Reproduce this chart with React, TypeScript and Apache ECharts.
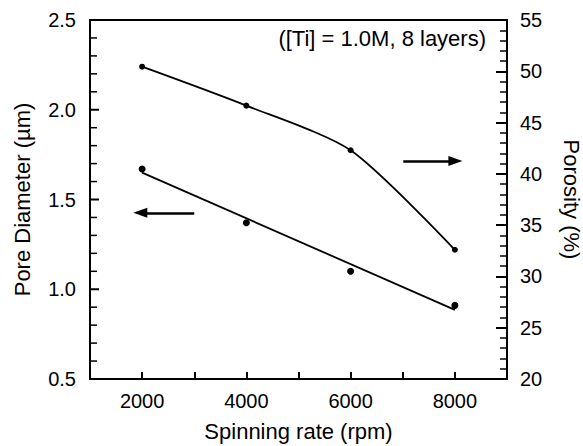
import React, { useEffect, useRef } from "react";
import * as echarts from "echarts";

// ---- data ----
const spinRates = [2000, 4000, 6000, 8000];
const poreDiameter = [1.67, 1.37, 1.1, 0.91]; // µm (left axis)
const porosity = [50.45, 46.65, 42.3, 32.6]; // % (right axis)
const fitX = [2000, 8000];
const poreFit = [1.65, 0.885]; // µm, linear fit end points
const xLabelValues = [2000, 4000, 6000, 8000];
const leftMajorTicks = [0.5, 1.0, 1.5, 2.0, 2.5];
const leftMinorTicks = [
  0.6, 0.7, 0.8, 0.9, 1.1, 1.2, 1.3, 1.4, 1.6, 1.7, 1.8, 1.9, 2.1, 2.2, 2.3, 2.4,
];
const leftArrow = { from: [3000, 1.426], to: [1965, 1.426] };
const rightArrow = { from: [7010, 41.25], to: [8010, 41.25] };
const annotation = "([Ti] = 1.0M, 8 layers)";

const LEFT_SCALE = 10;
const X_MIN = 1000;
const X_MAX = 9000;

const FONT = "'Liberation Sans', Arial, Helvetica, sans-serif";
const GRID = { left: 90, right: 76, top: 20, bottom: 67 };
const W = 583;
const H = 446;

export default function App() {
  const ref = useRef<HTMLDivElement>(null);
  useEffect(() => {
    if (!ref.current) return;
    const chart = echarts.init(ref.current, undefined, { renderer: "svg" });
    const black = "#000";
    const arrowLine = (a: { from: number[]; to: number[] }, s: number) => ({
      silent: true,
      symbol: ["none", "triangle"],
      symbolSize: [10, 14],
      label: { show: false },
      emphasis: { disabled: true },
      lineStyle: { color: black, width: 2.5, type: "solid" },
      data: [[{ coord: [a.from[0], a.from[1] * s] }, { coord: [a.to[0], a.to[1] * s] }]],
    });
    chart.setOption({
      animation: false,
      backgroundColor: "#fff",
      textStyle: { fontFamily: FONT, color: black },
      grid: {
        ...GRID,
        show: false,
        containLabel: false,
        outerBoundsMode: "none",
      },
      graphic: [
        {
          type: "text",
          x: 486,
          y: 38,
          style: {
            text: annotation,
            fontFamily: FONT,
            fontSize: 22,
            fill: black,
            textAlign: "right",
            textVerticalAlign: "middle",
          },
        },
      ],
      xAxis: [
        {
          type: "value",
          min: X_MIN,
          max: X_MAX,
          interval: 1000,
          position: "bottom",
          z: 5,
          name: "Spinning rate (rpm)",
          nameLocation: "middle",
          nameGap: 41,
          nameTextStyle: { fontSize: 22, color: black, fontFamily: FONT },
          axisLine: { show: true, onZero: false, lineStyle: { color: black, width: 2 } },
          axisTick: { show: true, inside: true, length: 7, lineStyle: { color: black, width: 2 } },
          axisLabel: {
            show: true,
            margin: 12,
            fontSize: 20,
            color: black,
            fontFamily: FONT,
            formatter: (v: number) => (xLabelValues.includes(v) ? String(v) : ""),
          },
          splitLine: { show: false },
        },
        {
          type: "value",
          min: X_MIN,
          max: X_MAX,
          interval: 1000,
          position: "top",
          z: 5,
          axisLine: { show: true, onZero: false, lineStyle: { color: black, width: 2 } },
          axisTick: { show: false },
          axisLabel: { show: false },
          splitLine: { show: false },
        },
      ],
      yAxis: [
        {
          type: "value",
          min: 5,
          max: 25,
          interval: 5,
          position: "left",
          z: 5,
          name: "Pore Diameter (\u00b5m)",
          nameLocation: "middle",
          nameGap: 57,
          nameTextStyle: { fontSize: 22, color: black, fontFamily: FONT },
          axisLine: { show: true, onZero: false, lineStyle: { color: black, width: 2 } },
          axisTick: { show: false },
          axisLabel: {
            margin: 14,
            fontSize: 20,
            color: black,
            fontFamily: FONT,
            formatter: (v: number) => (v / LEFT_SCALE).toFixed(1),
          },
          splitLine: { show: false },
        },
        {
          type: "value",
          min: 20,
          max: 55,
          interval: 5,
          position: "right",
          z: 5,
          name: "Porosity (%)",
          nameLocation: "middle",
          nameRotate: -90,
          nameGap: 53,
          nameTextStyle: { fontSize: 22, color: black, fontFamily: FONT },
          axisLine: { show: true, onZero: false, lineStyle: { color: black, width: 2 } },
          axisTick: { show: true, inside: true, length: 11, lineStyle: { color: black, width: 2 } },
          minorTick: { show: true, splitNumber: 5, length: 7, lineStyle: { color: black, width: 1.5 } },
          axisLabel: { margin: 13, fontSize: 20, color: black, fontFamily: FONT },
          splitLine: { show: false },
          minorSplitLine: { show: false },
        },
      ],
      series: [
        {
          name: "Porosity",
          type: "line",
          xAxisIndex: 0,
          yAxisIndex: 1,
          data: spinRates.map((x, i) => [x, porosity[i]]),
          smooth: 0.25,
          symbol: "circle",
          symbolSize: 6,
          itemStyle: { color: black, opacity: 1 },
          lineStyle: { color: black, width: 1.8 },
          markLine: arrowLine(rightArrow, 1),
        },
        {
          name: "Pore diameter fit",
          type: "line",
          xAxisIndex: 0,
          yAxisIndex: 0,
          data: fitX.map((x, i) => [x, poreFit[i] * LEFT_SCALE]),
          symbol: "none",
          lineStyle: { color: black, width: 1.8 },
          markLine: arrowLine(leftArrow, LEFT_SCALE),
        },
        {
          name: "Pore diameter",
          type: "scatter",
          xAxisIndex: 0,
          yAxisIndex: 0,
          data: spinRates.map((x, i) => [x, poreDiameter[i] * LEFT_SCALE]),
          symbol: "circle",
          symbolSize: 7,
          itemStyle: { color: black, opacity: 1 },
        },
      ],
    });

    // left-axis ticks placed through the library's own scale
    const tickEls: any[] = [];
    const addTicks = (vals: number[], len: number, lw: number) => {
      vals.forEach((v) => {
        const p = chart.convertToPixel({ xAxisIndex: 0, yAxisIndex: 0 }, [X_MIN, v * LEFT_SCALE]) as number[];
        if (!p) return;
        tickEls.push({
          type: "line",
          z: 100,
          silent: true,
          shape: { x1: p[0], y1: p[1], x2: p[0] + len, y2: p[1] },
          style: { stroke: black, lineWidth: lw },
        });
      });
    };
    addTicks(leftMajorTicks, 9, 2);
    addTicks(leftMinorTicks, 7, 1.5);
    chart.setOption({
      graphic: [
        {
          type: "text",
          x: 486,
          y: 38,
          style: {
            text: annotation,
            fontFamily: FONT,
            fontSize: 22,
            fill: black,
            textAlign: "right",
            textVerticalAlign: "middle",
          },
        },
        ...tickEls,
      ],
    });
    return () => chart.dispose();
  }, []);
  return (
    <div
      ref={ref}
      style={{ position: "fixed", left: 0, top: 0, width: W, height: H, background: "#fff" }}
    />
  );
}
